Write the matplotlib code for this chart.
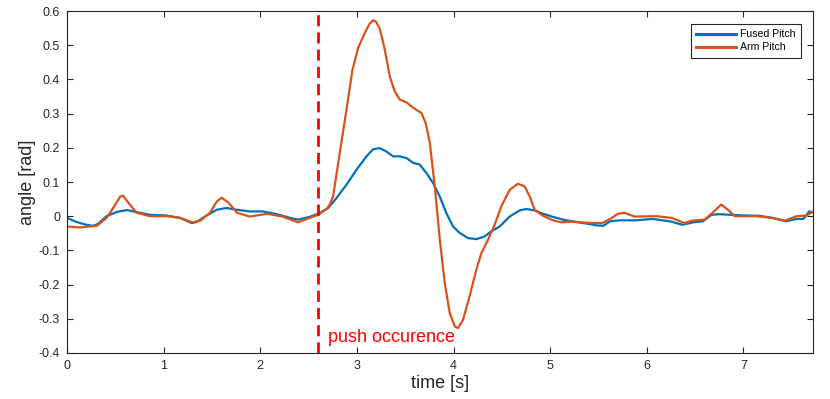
import numpy as np
import matplotlib
matplotlib.use('Agg')
import matplotlib.pyplot as plt

plt.rcParams['font.family'] = ['Liberation Sans', 'DejaVu Sans']

# Fused pitch (blue)
fused_t = [0.0, 0.1, 0.2, 0.27, 0.32, 0.41, 0.51, 0.62, 0.72, 0.86, 1.03, 1.17,
           1.29, 1.34, 1.445, 1.55, 1.65, 1.755, 1.89, 2.03, 2.17, 2.31, 2.39,
           2.51, 2.616, 2.702, 2.789, 2.892, 2.996, 3.099, 3.168, 3.237, 3.306,
           3.375, 3.444, 3.513, 3.582, 3.65, 3.72, 3.788, 3.857, 3.926, 3.995,
           4.064, 4.15, 4.237, 4.323, 4.392, 4.478, 4.581, 4.685, 4.754, 4.84,
           4.926, 5.03, 5.13, 5.27, 5.41, 5.48, 5.55, 5.62, 5.72, 5.89, 6.06,
           6.24, 6.37, 6.48, 6.58, 6.67, 6.75, 6.87, 7.03, 7.17, 7.30, 7.44,
           7.55, 7.62, 7.68, 7.72]
fused_pitch = [-0.005, -0.017, -0.025, -0.028, -0.023, 0.0, 0.012, 0.018, 0.012,
               0.004, 0.002, -0.005, -0.02, -0.017, 0.002, 0.019, 0.024, 0.019,
               0.014, 0.014, 0.006, -0.005, -0.01, -0.002, 0.009, 0.024, 0.053,
               0.092, 0.136, 0.175, 0.196, 0.199, 0.189, 0.175, 0.175, 0.17,
               0.156, 0.151, 0.126, 0.097, 0.058, 0.009, -0.03, -0.049, -0.064,
               -0.067, -0.059, -0.044, -0.03, -0.001, 0.017, 0.021, 0.017, 0.007,
               -0.002, -0.01, -0.017, -0.023, -0.027, -0.028, -0.015, -0.012,
               -0.012, -0.008, -0.015, -0.025, -0.018, -0.015, 0.004, 0.006,
               0.004, 0.002, 0.001, -0.005, -0.015, -0.008, -0.008, 0.014, 0.011]

# Arm pitch (orange)
arm_t = [0.0, 0.13, 0.31, 0.41, 0.48, 0.55, 0.58, 0.65, 0.72, 0.86, 1.03, 1.17,
         1.30, 1.38, 1.48, 1.55, 1.60, 1.67, 1.76, 1.89, 2.07, 2.23, 2.39, 2.51,
         2.60, 2.69, 2.72, 2.754, 2.823, 2.892, 2.954, 3.013, 3.082, 3.13, 3.168,
         3.20, 3.237, 3.289, 3.340, 3.392, 3.444, 3.513, 3.565, 3.616, 3.668,
         3.712, 3.754, 3.806, 3.857, 3.909, 3.961, 4.012, 4.047, 4.098, 4.167,
         4.236, 4.288, 4.357, 4.426, 4.495, 4.581, 4.667, 4.736, 4.788, 4.840,
         4.926, 5.03, 5.116, 5.23, 5.41, 5.54, 5.64, 5.70, 5.77, 5.87, 6.10,
         6.26, 6.39, 6.47, 6.60, 6.68, 6.77, 6.84, 6.91, 7.13, 7.30, 7.43, 7.55,
         7.65, 7.72]
arm_pitch = [-0.03, -0.033, -0.028, -0.005, 0.025, 0.057, 0.06, 0.034, 0.01, 0.0,
             0.0, -0.005, -0.018, -0.013, 0.01, 0.043, 0.054, 0.04, 0.01, -0.001,
             0.007, -0.001, -0.018, -0.005, 0.004, 0.022, 0.035, 0.058, 0.185,
             0.311, 0.428, 0.492, 0.536, 0.562, 0.573, 0.568, 0.548, 0.487,
             0.409, 0.365, 0.341, 0.333, 0.321, 0.311, 0.302, 0.272, 0.216, 0.087,
             -0.065, -0.195, -0.283, -0.322, -0.327, -0.303, -0.234, -0.156,
             -0.108, -0.069, -0.025, 0.029, 0.077, 0.095, 0.087, 0.058, 0.019,
             0.001, -0.012, -0.018, -0.016, -0.02, -0.02, -0.005, 0.007, 0.01,
             -0.001, 0.0, -0.005, -0.02, -0.013, -0.01, 0.01, 0.034, 0.019, 0.0,
             0.0, -0.005, -0.013, 0.0, 0.002, 0.013]

push_time = 2.6

fig = plt.figure(figsize=(8.3, 3.99), dpi=100)
ax = fig.add_axes([0.0807, 0.1153, 0.8988, 0.8571])

ax.plot(fused_t, fused_pitch, color='#0072BD', lw=1.6, label='Fused Pitch')
ax.plot(arm_t, arm_pitch, color='#D95319', lw=1.6, label='Arm Pitch')
ax.axvline(push_time, color='#FF0000', lw=2.0, linestyle=(0, (4, 2.2)))
ax.text(push_time + 0.1, -0.355, 'push occurence', color='#FF0000',
        fontsize=13, ha='left', va='center')

ax.set_xlim(0, 7.72)
ax.set_ylim(-0.4, 0.6)
ax.set_xticks(range(0, 8))
ax.set_yticks(np.round(np.arange(-0.4, 0.61, 0.1), 1))
ax.set_yticklabels(['-0.4', '-0.3', '-0.2', '-0.1', '0', '0.1', '0.2', '0.3',
                    '0.4', '0.5', '0.6'])
ax.tick_params(direction='in', top=True, right=True, length=4, width=0.8,
               labelsize=9, colors='#262626', pad=5)
for s in ax.spines.values():
    s.set_color('#262626')
    s.set_linewidth(0.8)

ax.set_xlabel('time [s]', fontsize=13, color='#262626', labelpad=2)
ax.set_ylabel('angle [rad]', fontsize=13, color='#262626', labelpad=2)

leg = ax.legend(loc='upper right', bbox_to_anchor=(0.9835, 0.962), fontsize=7.6,
                handlelength=3.8, handletextpad=0.35, borderpad=0.5,
                labelspacing=0.3, fancybox=False, framealpha=1,
                edgecolor='#262626', borderaxespad=0)
leg.get_frame().set_linewidth(0.8)
for line in leg.get_lines():
    line.set_linewidth(2.2)

fig.savefig('out.png', dpi=100)
